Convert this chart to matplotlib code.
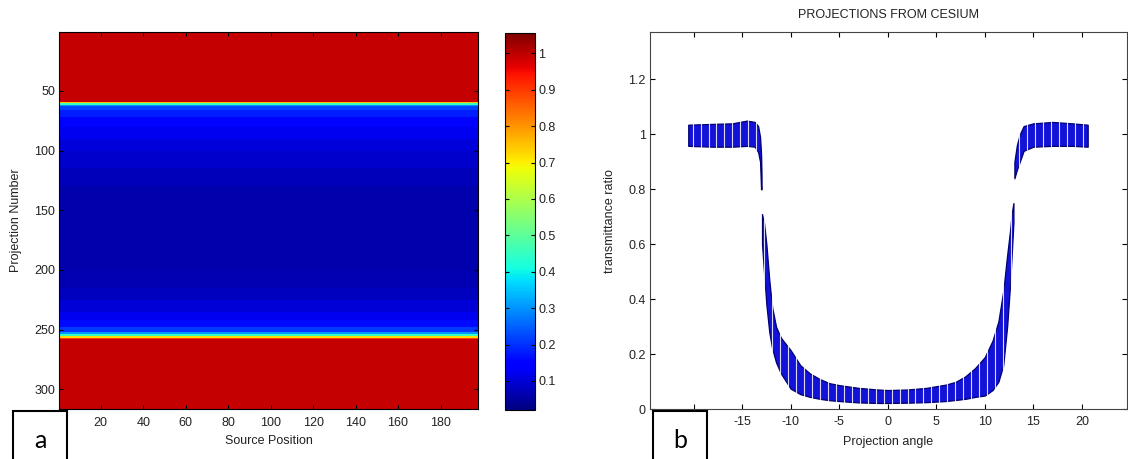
import numpy as np
import matplotlib
matplotlib.use("Agg")
from matplotlib import pyplot as plt
from matplotlib.patches import Rectangle

plt.rcParams['font.family'] = ['Liberation Sans', 'DejaVu Sans']
plt.rcParams['axes.unicode_minus'] = False

# ---- panel a: transmittance map (row bands) ----
row_edges = [0.5, 59.5, 60.5, 61.5, 63, 66, 72, 80, 90, 100, 115, 130, 200, 215,
             225, 235, 242, 248, 252, 254, 255.5, 257, 258, 316.5]
row_values = [0.994, 0.75, 0.45, 0.3, 0.22, 0.18, 0.15, 0.125, 0.105, 0.09, 0.075,
              0.062, 0.068, 0.08, 0.1, 0.125, 0.16, 0.21, 0.3, 0.45, 0.72, 0.9, 0.994]
col_edges = [0.5, 197.5]
cbar_ticks = [0.1, 0.2, 0.3, 0.4, 0.5, 0.6, 0.7, 0.8, 0.9, 1.0]
cbar_labels = ['0.1', '0.2', '0.3', '0.4', '0.5', '0.6', '0.7', '0.8', '0.9', '1']

# ---- panel b: transmittance vs projection angle (band envelopes) ----
left_x = [-20.55, -18, -16, -14.5, -13.7, -13.35, -13.15, -13.05, -13.0]
left_lo = [0.958, 0.955, 0.955, 0.958, 0.955, 0.935, 0.9, 0.8, 0.8]
left_hi = [1.035, 1.038, 1.04, 1.05, 1.045, 1.03, 0.99, 0.93, 0.85]

mid_x = [-12.95, -12.75, -12.5, -12.2, -11.9, -11.5, -11.0, -10.0, -9.0, -8.0,
         -7.0, -6.0, -5.0, -3.0, -1.0, 0.0, 2.0, 4.0, 6.0, 7.0, 8.0, 9.0, 10.0,
         10.8, 11.4, 11.9, 12.3, 12.6, 12.8, 12.95]
mid_lo = [0.6, 0.5, 0.38, 0.28, 0.22, 0.17, 0.13, 0.075, 0.055, 0.045,
          0.038, 0.033, 0.03, 0.025, 0.023, 0.023, 0.024, 0.026, 0.03, 0.034,
          0.038, 0.045, 0.05, 0.07, 0.1, 0.16, 0.3, 0.45, 0.58, 0.68]
mid_hi = [0.71, 0.68, 0.6, 0.47, 0.37, 0.3, 0.26, 0.215, 0.16, 0.13,
          0.11, 0.095, 0.088, 0.078, 0.072, 0.07, 0.072, 0.078, 0.09, 0.1,
          0.12, 0.15, 0.19, 0.25, 0.32, 0.43, 0.56, 0.65, 0.72, 0.75]

right_x = [13.05, 13.3, 13.6, 14.0, 15.0, 17.0, 19.0, 20.6]
right_lo = [0.84, 0.87, 0.9, 0.94, 0.955, 0.958, 0.958, 0.955]
right_hi = [0.9, 0.96, 1.0, 1.03, 1.04, 1.045, 1.04, 1.035]

W, H = 1128, 459
fig = plt.figure(figsize=(W / 100, H / 100), dpi=100)
txt = '#222222'
fs = 9


def fbox(l, t, r, b):
    return [l / W, 1 - b / H, (r - l) / W, (b - t) / H]


# panel a
ax1 = fig.add_axes(fbox(59.3, 31.7, 477.7, 409))
mesh = ax1.pcolormesh(col_edges, row_edges, np.array(row_values)[:, None],
                      cmap='jet', vmin=0.02, vmax=1.057)
ax1.set_xlim(0.5, 197.5)
ax1.set_ylim(316.5, 0.5)
ax1.set_xticks([20, 40, 60, 80, 100, 120, 140, 160, 180])
ax1.set_yticks([50, 100, 150, 200, 250, 300])
ax1.tick_params(direction='in', length=3, top=True, right=True, labelsize=fs,
                labelcolor=txt)
ax1.tick_params(axis='x', pad=6)
ax1.tick_params(axis='y', pad=3)
ax1.set_xlabel('Source Position', fontsize=fs, color=txt)
ax1.set_ylabel('Projection Number', fontsize=fs, color=txt)
ax1.xaxis.set_label_coords(0.5, -0.084)
ax1.xaxis.label.set_va('center')
ax1.yaxis.set_label_coords(-0.1035, 0.5)
ax1.yaxis.label.set_va('center')

cax = fig.add_axes(fbox(504.7, 32.7, 535.3, 410))
cb = fig.colorbar(mesh, cax=cax)
cb.set_ticks(cbar_ticks)
cb.set_ticklabels(cbar_labels)
cb.outline.set_linewidth(0.8)
cax.tick_params(direction='in', length=3, left=True, right=True, labelsize=fs,
                labelcolor=txt, pad=2)

# panel b
ax2 = fig.add_axes(fbox(649.9, 32.3, 1127, 409.3))
blue = '#1212d8'
edge = '#000070'
for xs, lo, hi in [(left_x, left_lo, left_hi), (mid_x, mid_lo, mid_hi),
                   (right_x, right_lo, right_hi)]:
    ax2.fill_between(xs, lo, hi, facecolor=blue, edgecolor=edge, linewidth=0.9)
# white gaps between source-position groups
stripes = np.arange(-20.1, 20.6, 0.82)
ax2.vlines(stripes, 0.0, 1.1, colors='white', linewidth=0.8, alpha=0.85)
ax2.set_xlim(-24.5, 24.65)
ax2.set_ylim(0, 1.371)
ax2.set_xticks([-20, -15, -10, -5, 0, 5, 10, 15, 20])
ax2.set_yticks([0, 0.2, 0.4, 0.6, 0.8, 1.0, 1.2])
ax2.set_yticklabels(['0', '0.2', '0.4', '0.6', '0.8', '1', '1.2'])
ax2.tick_params(direction='in', length=3.5, top=True, right=True, labelsize=fs,
                labelcolor=txt)
ax2.tick_params(axis='x', pad=5)
ax2.tick_params(axis='y', pad=3)
for s in ax2.spines.values():
    s.set_color('#444444')
ax2.set_xlabel('Projection angle', fontsize=fs, color=txt)
ax2.set_ylabel('transmittance ratio', fontsize=fs, color=txt)
ax2.xaxis.set_label_coords(0.5, -0.086)
ax2.xaxis.label.set_va('center')
ax2.yaxis.set_label_coords(-0.084, 0.5)
ax2.yaxis.label.set_va('center')
fig.text(888.5 / W, 1 - 15 / H, 'PROJECTIONS FROM CESIUM', ha='center', va='center',
         fontsize=fs, color=txt)

# panel letters
for l, r, cx, letter in [(13, 67, 40, 'a'), (652.7, 706.9, 680, 'b')]:
    fig.patches.append(Rectangle((l / W, -0.05), (r - l) / W, (459 + 23 - 411) / H,
                                 transform=fig.transFigure, facecolor='white',
                                 edgecolor='black', linewidth=1.5, zorder=5))
    fig.text(cx / W, 1 - 441 / H, letter, ha='center', va='center', fontsize=18,
             family=['Lato', 'DejaVu Sans'], color='black', zorder=6)

fig.savefig('out.png', dpi=100)
